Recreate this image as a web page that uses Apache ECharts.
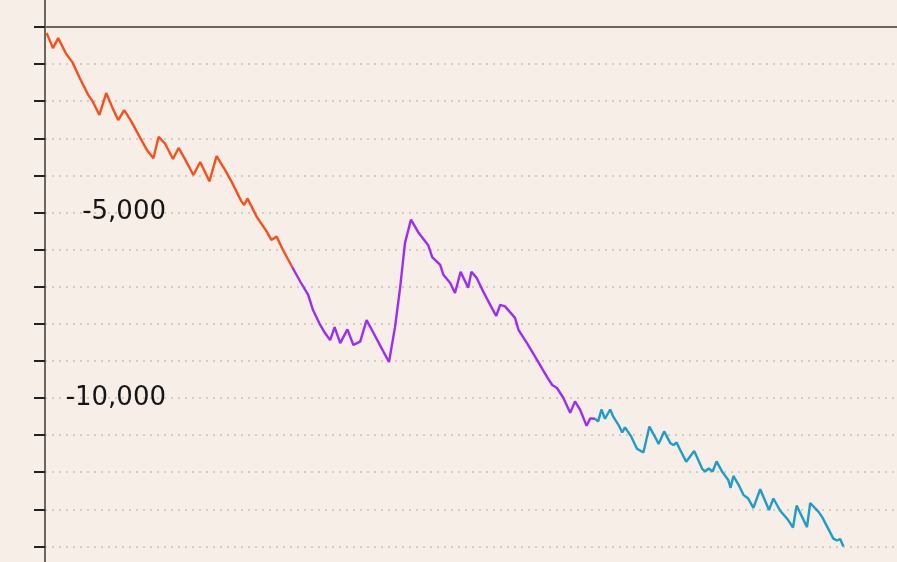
<!DOCTYPE html>
<html>
<head>
<meta charset="utf-8">
<script src="https://cdn.jsdelivr.net/npm/echarts@6/dist/echarts.min.js"></script>
<style>
  html, body { margin: 0; padding: 0; background: #f6eee7; }
  #chart { width: 897px; height: 562px; }
</style>
</head>
<body>
<div id="chart"></div>
<script>
// Hand index (x) and cumulative result (y) for each phase
const phase1X = [0.4, 2.0, 3.3, 5.3, 6.8, 8.8, 10.8, 12.0, 13.6, 15.3, 16.8, 18.3, 19.8, 21.5, 23.8, 25.5, 27.1, 28.4, 30.0, 32.0, 33.4, 35.0, 37.1, 38.8, 41.1, 42.9, 45.0, 46.6, 49.1, 49.8, 50.6, 52.9, 55.4, 56.6, 57.9, 59.5, 61.8];
const phase1Y = [-160, -570, -300, -730, -940, -1400, -1830, -2020, -2370, -1780, -2160, -2510, -2240, -2530, -2990, -3320, -3540, -2960, -3140, -3560, -3260, -3560, -3990, -3640, -4160, -3480, -3850, -4160, -4700, -4800, -4620, -5110, -5510, -5740, -5650, -6010, -6470];

const phase2X = [61.8, 63.8, 65.8, 67.0, 68.8, 70.0, 71.3, 72.4, 73.8, 75.6, 77.1, 78.8, 80.4, 82.0, 84.1, 86.0, 87.5, 88.8, 90.0, 91.5, 93.3, 95.8, 96.8, 98.8, 99.6, 101.3, 102.5, 103.9, 105.8, 106.6, 107.9, 109.6, 111.3, 112.8, 113.8, 115.0, 117.5, 118.4, 120.5, 123.0, 125.5, 126.8, 128.0, 129.6, 131.3, 132.5, 133.8, 135.4, 136.3, 137.5];
const phase2Y = [-6470, -6860, -7220, -7630, -8030, -8250, -8440, -8090, -8520, -8150, -8570, -8480, -7900, -8220, -8650, -9030, -8090, -7010, -5820, -5190, -5530, -5880, -6200, -6410, -6680, -6900, -7170, -6600, -7030, -6600, -6760, -7140, -7490, -7790, -7490, -7530, -7840, -8170, -8520, -8970, -9430, -9650, -9730, -10000, -10400, -10090, -10320, -10750, -10550, -10560];

const phase3X = [137.5, 138.3, 139.1, 140.0, 141.3, 142.1, 143.4, 144.3, 145.0, 146.6, 148.0, 149.6, 151.1, 152.9, 153.4, 154.8, 156.3, 157.1, 157.9, 158.8, 160.3, 162.3, 164.3, 165.0, 165.9, 166.9, 167.9, 169.3, 170.8, 171.4, 172.1, 173.4, 174.6, 175.8, 177.1, 178.8, 181.0, 182.1, 183.8, 185.8, 187.0, 187.9, 190.5, 191.3, 193.4, 194.3, 195.8, 197.1, 198.0, 198.8, 199.6];
const phase3Y = [-10560, -10630, -10310, -10560, -10310, -10510, -10730, -10930, -10790, -11050, -11370, -11470, -10770, -11130, -11240, -10900, -11210, -11270, -11200, -11400, -11720, -11430, -11910, -11980, -11900, -11980, -11710, -11990, -12210, -12420, -12100, -12340, -12610, -12710, -12960, -12460, -13020, -12710, -13040, -13290, -13490, -12900, -13480, -12830, -13070, -13210, -13520, -13790, -13840, -13800, -14000];

// Y-axis labels shown
const yLabelValues = [-5000, -10000];

const zip = (xs, ys) => xs.map((x, i) => [x, ys[i]]);
const fmt = v => (v < 0 ? '-' : '') + Math.abs(v).toString().replace(/\B(?=(\d{3})+(?!\d))/g, ',');

const chart = echarts.init(document.getElementById('chart'), null, { renderer: 'canvas' });
const lineSeries = (data, color) => ({
  type: 'line',
  data: data,
  showSymbol: false,
  symbol: 'none',
  smooth: false,
  animation: false,
  lineStyle: { color: color, width: 2.4 },
  emphasis: { disabled: true }
});

chart.setOption({
  backgroundColor: '#f6eee7',
  animation: false,
  grid: { left: 45, right: 0, top: -10.1, bottom: -21.5, containLabel: false, outerBoundsMode: 'none' },
  xAxis: {
    type: 'value',
    min: 0,
    max: 213,
    axisLine: { show: true, onZero: true, lineStyle: { color: '#6a6664', width: 2 } },
    axisTick: { show: false },
    axisLabel: { show: false },
    splitLine: { show: false }
  },
  yAxis: {
    type: 'value',
    min: -15000,
    max: 1000,
    interval: 1000,
    axisLine: { show: true, lineStyle: { color: '#6a6664', width: 2 } },
    axisTick: { show: true, length: 11, lineStyle: { color: '#222', width: 2 } },
    axisLabel: {
      inside: true,
      align: 'right',
      margin: 121,
      color: '#151515',
      fontFamily: 'DejaVu Sans',
      fontSize: 26,
      padding: [5, 0, 0, 0],
      formatter: v => yLabelValues.includes(v) ? fmt(v) : ''
    },
    splitLine: { show: true, lineStyle: { color: '#c9c2bb', width: 1.5, type: [2, 5] } }
  },
  series: [
    lineSeries(zip(phase1X, phase1Y), '#f4511f'),
    lineSeries(zip(phase2X, phase2Y), '#9b2ef2'),
    lineSeries(zip(phase3X, phase3Y), '#1f9ccb')
  ]
});
</script>
</body>
</html>
